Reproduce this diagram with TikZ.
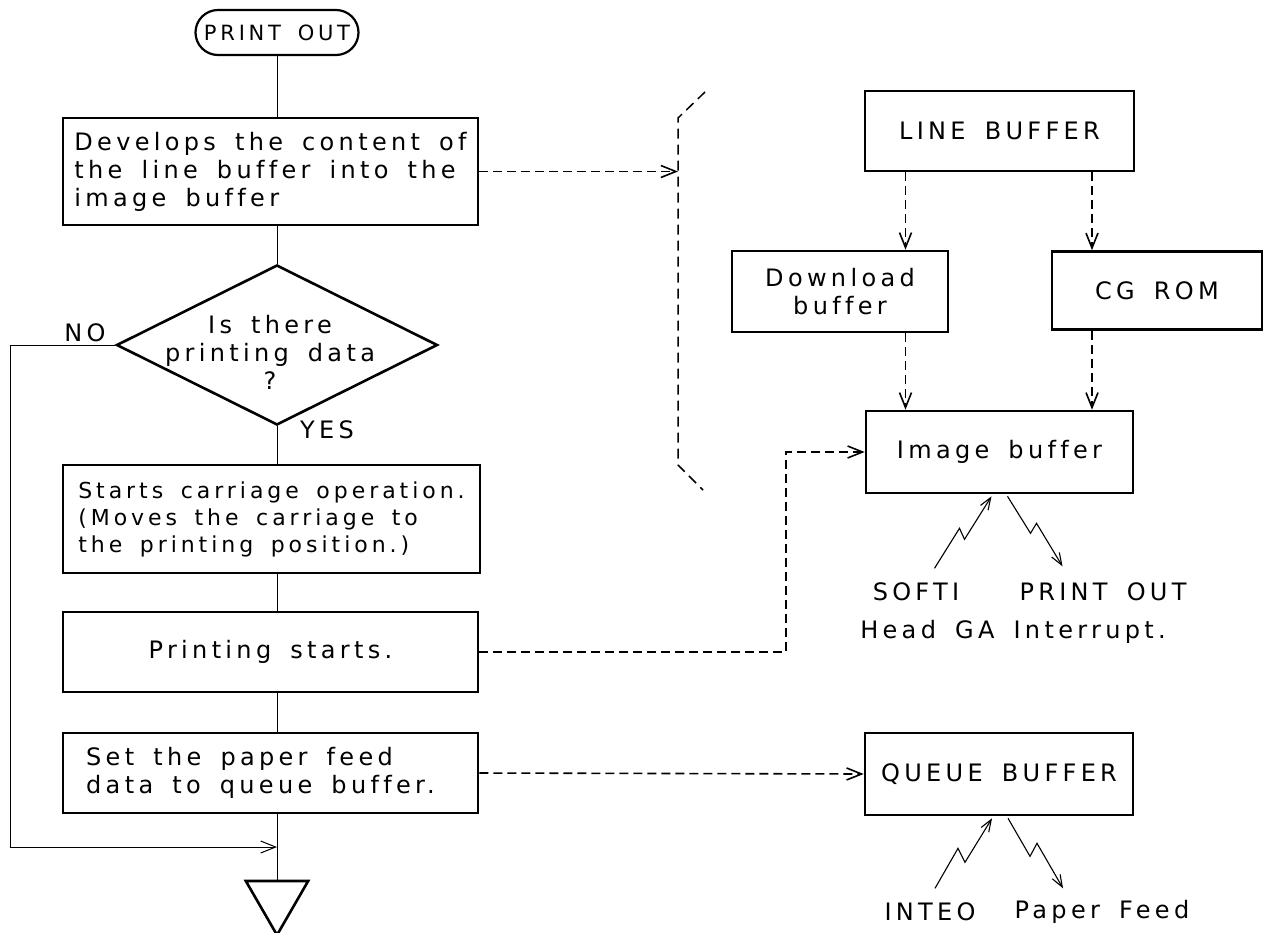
\documentclass[tikz,border=0pt]{standalone}
\usepackage{fontspec}
\setmainfont{DejaVu Sans}[LetterSpace=18,WordSpace=1.6,Ligatures=NoCommon]
\usetikzlibrary{arrows.meta,shapes.geometric,shapes.misc,calc}
\begin{document}
\begin{tikzpicture}[x=1pt,y=-1pt,
  >={Straight Barb[length=15pt,width=12pt]},
  every node/.style={font=\fontsize{24}{28}\selectfont},
  blk/.style={draw,line width=2.6pt,rectangle,inner sep=0pt},
  ln/.style={line width=1pt},
  dar/.style={line width=1.6pt,dash pattern=on 9pt off 5pt,->},
  brk/.style={line width=1.5pt,dash pattern=on 10pt off 6pt},
  zz/.style={line width=1.1pt,-{Straight Barb[length=12pt,width=9pt]}}]
\useasboundingbox (0,0) rectangle (1265,932);

% ---- left column ----
\node[rounded rectangle,draw,line width=2.2pt,minimum width=163pt,minimum height=45pt,
      inner sep=0pt,font=\fontsize{21}{24}\selectfont] (start) at (277,32.5) {PRINT OUT};
\node[blk,minimum width=415pt,minimum height=107pt,align=left]
   (b1) at (270.5,171.5) {Develops the content of\\the line buffer into the\\image buffer};
\node[diamond,draw,line width=2.6pt,minimum width=321pt,minimum height=160pt,inner sep=0pt]
   (dec) at (277,345) {};
\node[align=center] (dect) at (270,352) {Is there\\printing data\\?};
\node (no) at (85,333) {NO};
\node (yes) at (327,430) {YES};
\node[blk,minimum width=417pt,minimum height=108pt,align=left,font=\fontsize{22}{27}\selectfont]
   (b2) at (271.5,519) {Starts carriage operation.\\(Moves the carriage to\\the printing position.)};
\node[blk,minimum width=415pt,minimum height=80pt,align=center] (b3) at (270.5,652) {Printing starts.};
\node[blk,minimum width=415pt,minimum height=80pt,align=left]
   (b4) at (270.5,773) {Set the paper feed\\data to queue buffer.\hspace*{20pt}};
\node[regular polygon,regular polygon sides=3,shape border rotate=180,draw,line width=2.6pt,
      minimum size=72pt,inner sep=0pt] (tri) at (277,899) {};
\coordinate (m) at (277,847);

\draw[ln] (start.south) -- (start.south |- b1.north);
\draw[ln] (b1.south -| dec) -- (dec.north);
\draw[ln] (dec.south) -- (dec.south |- b2.north);
\draw[ln] (b2.south -| dec) -- (b3.north -| dec);
\draw[ln] (b3.south -| dec) -- (b4.north -| dec);
\draw[ln] (b4.south -| dec) -- (tri.north);
\draw[ln,->] (dec.west) -- ++(-105,0) |- (m);

% ---- right side ----
\coordinate (bt) at (705,92);
\coordinate (bta) at (678,118);
\coordinate (br) at (678,171.5);
\coordinate (bba) at (678,465);
\coordinate (bb) at (703,490);
\draw[brk] (bt) -- (bta) -- (bba) -- (bb);
\draw[dar] (b1.east) -- (br);

\node[blk,minimum width=269pt,minimum height=80pt] (lb) at (999.5,131) {LINE BUFFER};
\node[blk,minimum width=216pt,minimum height=81pt,align=center] (dl) at (840,291.5) {Download\\buffer};
\node[blk,minimum width=210pt,minimum height=78pt] (cg) at (1157,290.5) {CG ROM};
\node[blk,minimum width=267pt,minimum height=82pt] (ib) at (999.5,452) {Image buffer};
\node[blk,minimum width=268pt,minimum height=82pt] (qb) at (999,774) {QUEUE BUFFER};

\coordinate (ax1) at (905.5,0);
\coordinate (ax2) at (1092,0);
\coordinate (ax3) at (786,0);
\draw[dar] (lb.south -| ax1) -- (dl.north -| ax1);
\draw[dar] (lb.south -| ax2) -- (cg.north -| ax2);
\draw[dar] (dl.south -| ax1) -- (ib.north -| ax1);
\draw[dar] (cg.south -| ax2) -- (ib.north -| ax2);
\draw[dar] (b3.east) -| (ax3 |- ib.west) -- (ib.west);
\draw[dar] (b4.east) -- (qb.west);

% lightning arrows
\draw[zz] ($(ib.south)+(-65,74)$) -- ++(25,-40) -- ++(5,11) -- ++(27,-43);
\draw[zz] ($(ib.south)+(8,2)$) -- ++(23,37) -- ++(6,-10) -- ++(26,43);
\draw[zz] ($(qb.south)+(-64,72)$) -- ++(23,-40) -- ++(7,14) -- ++(27,-44);
\draw[zz] ($(qb.south)+(9,2)$) -- ++(22,38) -- ++(7,-13) -- ++(26,45);

\node (softi) at (916,592) {SOFTI};
\node (pout) at (1103,592) {PRINT OUT};
\node (hga) at (1013,632) {Head GA Interrupt.};
\node (inteo) at (930,912) {INTEO};
\node (pfeed) at (1102,912) {Paper Feed};
\end{tikzpicture}
\end{document}
